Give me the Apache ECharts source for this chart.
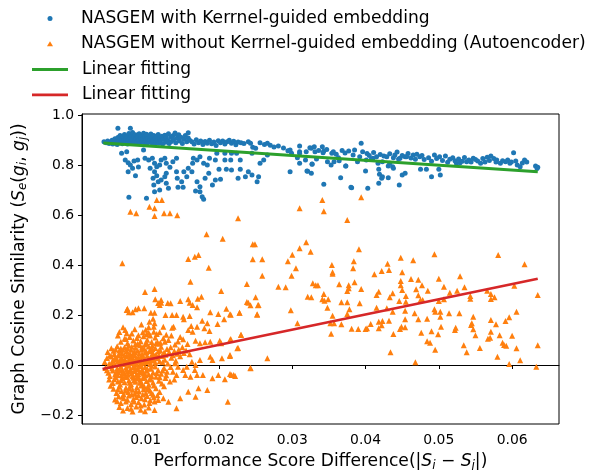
<!DOCTYPE html>
<html>
<head>
<meta charset="utf-8">
<script src="https://cdn.jsdelivr.net/npm/echarts@6/dist/echarts.min.js"></script>
<style>
  html, body { margin: 0; padding: 0; background: #fff; }
  #main { width: 592px; height: 470px; }
</style>
</head>
<body>
<div id="main"></div>
<script>
// values, [score difference, cosine similarity]
const kernelPoints = [
  [0.0043,0.893],[0.0046,0.889],[0.0048,0.896],[0.0050,0.886],[0.0052,0.892],[0.0054,0.899],[0.0055,0.884],[0.0057,0.890],
  [0.0058,0.905],[0.0060,0.895],[0.0061,0.882],[0.0062,0.910],[0.0063,0.888],[0.0064,0.899],[0.0065,0.918],[0.0066,0.893],
  [0.0067,0.904],[0.0068,0.885],[0.0069,0.912],[0.0070,0.897],[0.0071,0.922],[0.0072,0.890],[0.0073,0.906],[0.0074,0.915],
  [0.0075,0.884],[0.0076,0.899],[0.0077,0.926],[0.0078,0.908],[0.0079,0.893],[0.0080,0.917],[0.0081,0.902],[0.0082,0.930],
  [0.0083,0.887],[0.0084,0.911],[0.0085,0.897],[0.0086,0.921],[0.0087,0.905],[0.0088,0.891],[0.0089,0.914],[0.0090,0.899],
  [0.0091,0.925],[0.0092,0.886],[0.0093,0.908],[0.0094,0.918],[0.0095,0.894],[0.0096,0.903],[0.0097,0.927],[0.0098,0.889],
  [0.0099,0.912],[0.0100,0.898],[0.0101,0.920],[0.0102,0.884],[0.0103,0.907],[0.0104,0.893],[0.0105,0.916],[0.0106,0.901],
  [0.0107,0.924],[0.0108,0.889],[0.0109,0.910],[0.0110,0.897],[0.0111,0.918],[0.0112,0.882],[0.0113,0.905],[0.0114,0.893],
  [0.0115,0.913],[0.0116,0.900],[0.0117,0.922],[0.0118,0.887],[0.0119,0.908],[0.0120,0.896],[0.0122,0.915],[0.0123,0.884],
  [0.0124,0.903],[0.0126,0.919],[0.0127,0.891],[0.0128,0.909],[0.0130,0.898],[0.0131,0.925],[0.0132,0.886],[0.0134,0.912],
  [0.0135,0.894],[0.0137,0.917],[0.0138,0.902],[0.0140,0.928],[0.0141,0.889],[0.0143,0.907],[0.0145,0.921],[0.0146,0.896],
  [0.0148,0.911],[0.0150,0.886],[0.0152,0.903],[0.0154,0.918],[0.0156,0.893],[0.0158,0.908],[0.0160,0.899],
  [0.0062,0.947],[0.0079,0.947],[0.0101,0.923],[0.0140,0.923],[0.0158,0.929],
  [0.0163,0.893],[0.0166,0.884],[0.0169,0.901],[0.0172,0.889],[0.0175,0.896],[0.0178,0.882],[0.0181,0.894],[0.0184,0.887],
  [0.0187,0.899],[0.0190,0.885],[0.0193,0.892],[0.0196,0.878],[0.0199,0.897],[0.0202,0.889],[0.0205,0.896],[0.0208,0.884],
  [0.0211,0.893],[0.0214,0.899],[0.0217,0.887],[0.0220,0.895],[0.0223,0.881],[0.0226,0.892],[0.0230,0.889],[0.0234,0.886],
  [0.0240,0.893],[0.0243,0.887],[0.0246,0.871],[0.0245,0.847],[0.0250,0.867],[0.0256,0.889],[0.0262,0.882],[0.0266,0.887],
  [0.0270,0.879],[0.0275,0.872],[0.0281,0.876],[0.0288,0.868],[0.0294,0.857],[0.0299,0.847],[0.0297,0.860],[0.0310,0.876],
  [0.0310,0.853],[0.0319,0.853],[0.0324,0.869],[0.0330,0.873],[0.0331,0.853],[0.0341,0.873],[0.0343,0.856],[0.0354,0.847],
  [0.0356,0.853],[0.0363,0.829],[0.0377,0.856],[0.0383,0.840],[0.0394,0.887],[0.0392,0.833],[0.0410,0.827],[0.0415,0.833],
  [0.0429,0.833],[0.0438,0.829],[0.0447,0.827],[0.0454,0.833],[0.0465,0.840],[0.0474,0.833],
  [0.0336,0.858],[0.0347,0.862],[0.0360,0.843],[0.0368,0.858],[0.0372,0.848],[0.0385,0.860],[0.0326,0.867],[0.0342,0.849],
  [0.0396,0.853],[0.0402,0.846],[0.0405,0.838],[0.0411,0.850],[0.0420,0.842],[0.0425,0.836],[0.0433,0.845],[0.0440,0.840],
  [0.0443,0.852],[0.0450,0.838],[0.0458,0.846],[0.0462,0.828],[0.0470,0.843],[0.0477,0.838],
  [0.0307,0.829],[0.0310,0.807],[0.0327,0.803],[0.0333,0.824],[0.0348,0.813],[0.0353,0.800],[0.0357,0.813],[0.0364,0.817],
  [0.0373,0.796],[0.0389,0.813],[0.0401,0.820],[0.0408,0.823],[0.0417,0.807],[0.0423,0.813],[0.0433,0.807],[0.0437,0.793],
  [0.0445,0.824],[0.0456,0.833],[0.0468,0.823],
  [0.0297,0.773],[0.0321,0.775],[0.0326,0.767],[0.0343,0.723],[0.0366,0.749],[0.0381,0.709],[0.0400,0.776],[0.0403,0.707],
  [0.0418,0.727],[0.0419,0.763],[0.0422,0.747],[0.0423,0.753],[0.0431,0.749],[0.0438,0.787],[0.0446,0.720],[0.0450,0.760],
  [0.0454,0.767],[0.0431,0.796],[0.0418,0.783],[0.0380,0.711],[0.0373,0.796],[0.0327,0.804],
  [0.0494,0.840],[0.0501,0.833],[0.0515,0.823],[0.0524,0.807],[0.0529,0.809],[0.0538,0.813],[0.0547,0.827],[0.0557,0.807],
  [0.0566,0.831],[0.0571,0.836],[0.0579,0.820],[0.0584,0.807],[0.0591,0.813],[0.0597,0.807],[0.0602,0.849],[0.0607,0.800],
  [0.0611,0.793],[0.0617,0.820],[0.0632,0.796],[0.0635,0.791],
  [0.0490,0.753],[0.0502,0.760],[0.0500,0.783],[0.0483,0.783],[0.0475,0.783],
  [0.0480,0.822],[0.0486,0.829],[0.0490,0.815],[0.0497,0.826],[0.0505,0.818],[0.0509,0.836],[0.0512,0.811],[0.0519,0.829],
  [0.0522,0.817],[0.0527,0.824],[0.0532,0.815],[0.0535,0.830],[0.0541,0.820],[0.0544,0.812],[0.0550,0.822],[0.0553,0.816],
  [0.0560,0.826],[0.0563,0.812],[0.0569,0.818],[0.0575,0.826],[0.0578,0.812],[0.0587,0.817],[0.0594,0.820],[0.0599,0.812],
  [0.0605,0.816],[0.0614,0.808],[0.0620,0.812],[0.0634,0.786],
  [0.0067,0.847],[0.0074,0.853],[0.0072,0.820],[0.0076,0.809],[0.0079,0.800],[0.0082,0.787],[0.0084,0.816],[0.0089,0.820],
  [0.0076,0.773],[0.0086,0.757],[0.0090,0.792],[0.0097,0.860],[0.0099,0.827],[0.0104,0.820],[0.0109,0.827],[0.0112,0.807],
  [0.0106,0.787],[0.0112,0.773],[0.0115,0.793],[0.0119,0.800],[0.0121,0.820],[0.0126,0.827],[0.0128,0.807],[0.0133,0.791],
  [0.0137,0.813],[0.0142,0.827],
  [0.0115,0.757],[0.0110,0.747],[0.0111,0.720],[0.0112,0.693],[0.0117,0.733],[0.0121,0.740],[0.0126,0.753],[0.0128,0.727],
  [0.0131,0.707],[0.0119,0.700],[0.0128,0.767],[0.0101,0.667],[0.0077,0.671],
  [0.0143,0.747],[0.0149,0.733],[0.0144,0.711],[0.0151,0.711],[0.0142,0.773],[0.0152,0.773],[0.0156,0.753],[0.0158,0.787],
  [0.0163,0.773],[0.0164,0.807],[0.0165,0.827],[0.0170,0.820],[0.0174,0.833],[0.0179,0.807],[0.0184,0.800],[0.0187,0.827],
  [0.0195,0.820],[0.0197,0.847],[0.0208,0.847],[0.0208,0.820],[0.0216,0.820],[0.0217,0.847],[0.0224,0.847],[0.0229,0.820],
  [0.0236,0.753],[0.0170,0.733],[0.0174,0.713],[0.0181,0.747],[0.0186,0.767],[0.0191,0.720],[0.0195,0.740],[0.0200,0.783],
  [0.0202,0.743],[0.0174,0.693],[0.0177,0.673],[0.0179,0.663],[0.0168,0.696],
  [0.0226,0.747],[0.0229,0.783],[0.0217,0.780],[0.0210,0.783],
  [0.0240,0.773],[0.0245,0.760],[0.0252,0.733],[0.0254,0.753],[0.0256,0.807],[0.0261,0.820],[0.0266,0.840],
  [0.0320,0.776],[0.0318,0.820],[0.0310,0.847]
]

const autoPoints = [
  // high outliers
  [0.0079,0.613],[0.0087,0.607],[0.0105,0.633],[0.0112,0.627],[0.0112,0.596],[0.0125,0.607],[0.0133,0.607],[0.0143,0.599],
  [0.0115,0.660],[0.0122,0.660],[0.0226,0.587],[0.0183,0.523],[0.0205,0.505],[0.0310,0.627],[0.0341,0.660],[0.0343,0.615],
  [0.0394,0.671],[0.0375,0.580],
  [0.0068,0.407],[0.0158,0.424],[0.0167,0.433],[0.0172,0.440],[0.0186,0.389],[0.0161,0.333],[0.0203,0.296],[0.0099,0.292],
  [0.0112,0.304],[0.0113,0.263],[0.0121,0.260],[0.0121,0.249],[0.0119,0.240],[0.0130,0.248],[0.0134,0.247],[0.0147,0.256],
  [0.0158,0.263],[0.0160,0.249],[0.0164,0.240],[0.0170,0.231],[0.0171,0.265],[0.0176,0.273],[0.0210,0.225],[0.0075,0.225],
  [0.0090,0.227],[0.0098,0.227],
  [0.0074,0.220],[0.0077,0.211],[0.0082,0.211],[0.0086,0.223],[0.0107,0.209],[0.0112,0.209],[0.0117,0.248],
  [0.0127,0.200],[0.0136,0.200],[0.0142,0.200],[0.0151,0.193],[0.0160,0.196],
  [0.0105,0.173],[0.0112,0.167],[0.0111,0.153],[0.0104,0.151],[0.0124,0.153],[0.0136,0.149],[0.0138,0.153],
  [0.0072,0.140],[0.0074,0.127],[0.0101,0.123],[0.0104,0.129],[0.0111,0.133],
  [0.0152,0.183],[0.0162,0.156],[0.0158,0.140],[0.0164,0.133],[0.0170,0.153],[0.0177,0.177],[0.0180,0.147],[0.0184,0.167],
  [0.0187,0.136],[0.0198,0.164],[0.0207,0.183],[0.0216,0.201],[0.0228,0.209],[0.0188,0.211],[0.0199,0.204],[0.0240,0.249],
  [0.0253,0.239],[0.0252,0.201],
  [0.0124,0.107],[0.0126,0.093],[0.0114,0.087],[0.0120,0.089],
  [0.0151,0.103],[0.0157,0.084],[0.0168,0.097],[0.0174,0.087],[0.0181,0.091],[0.0188,0.093],[0.0201,0.097],[0.0203,0.087],
  [0.0216,0.104],[0.0230,0.121],[0.0226,0.068],[0.0215,0.036],[0.0204,0.027],[0.0191,0.020],[0.0188,0.033],[0.0174,0.020],
  [0.0168,0.000],[0.0163,0.013],[0.0156,-0.007],[0.0151,-0.020],[0.0144,-0.007],[0.0140,0.007],[0.0137,-0.027],[0.0142,-0.040],
  [0.0154,-0.040],[0.0161,-0.047],[0.0167,-0.020],[0.0170,-0.040],[0.0178,-0.040],[0.0191,-0.053],[0.0199,-0.040],[0.0208,-0.057],
  [0.0217,-0.040],[0.0222,-0.044],[0.0243,-0.013],[0.0212,-0.147],[0.0184,-0.100],[0.0172,-0.093],[0.0158,-0.107],[0.0168,-0.127],
  [0.0147,-0.133],[0.0142,-0.173],[0.0131,-0.147],[0.0124,-0.133],[0.0117,-0.140],[0.0112,-0.180],
  // right-hand spread
  [0.0246,0.483],[0.0249,0.483],[0.0319,0.491],[0.0310,0.467],[0.0325,0.453],[0.0300,0.441],[0.0391,0.463],[0.0494,0.443],
  [0.0581,0.440],[0.0246,0.423],[0.0259,0.423],[0.0294,0.415],[0.0384,0.415],[0.0448,0.429],[0.0465,0.419],[0.0430,0.405],
  [0.0617,0.403],[0.0354,0.400],[0.0305,0.387],[0.0383,0.387],[0.0355,0.371],[0.0355,0.365],[0.0259,0.357],[0.0299,0.357],
  [0.0412,0.363],[0.0422,0.376],[0.0432,0.380],[0.0450,0.371],[0.0529,0.355],[0.0500,0.345],[0.0462,0.344],[0.0472,0.341],
  [0.0448,0.336],
  [0.0238,0.324],[0.0281,0.313],[0.0291,0.311],[0.0328,0.327],[0.0332,0.319],[0.0335,0.319],[0.0364,0.323],[0.0377,0.319],
  [0.0377,0.307],[0.0375,0.296],[0.0385,0.331],[0.0394,0.304],[0.0448,0.319],[0.0450,0.300],[0.0477,0.319],[0.0469,0.303],
  [0.0485,0.297],[0.0507,0.313],[0.0515,0.289],[0.0525,0.297],[0.0535,0.311],[0.0566,0.297],[0.0571,0.284],[0.0576,0.271],
  [0.0571,0.264],[0.0543,0.276],[0.0543,0.265],[0.0603,0.317],[0.0635,0.280],
  [0.0415,0.280],[0.0418,0.293],[0.0437,0.287],[0.0433,0.271],[0.0455,0.276],[0.0455,0.253],[0.0446,0.256],[0.0472,0.279],
  [0.0475,0.260],[0.0478,0.260],[0.0494,0.223],[0.0495,0.213],[0.0502,0.213],[0.0502,0.193],[0.0514,0.207],[0.0528,0.207],
  [0.0500,0.256],[0.0507,0.263],
  [0.0321,0.273],[0.0326,0.271],[0.0341,0.263],[0.0344,0.257],[0.0349,0.263],[0.0343,0.284],[0.0367,0.251],[0.0375,0.251],
  [0.0392,0.247],[0.0348,0.229],[0.0378,0.223],[0.0375,0.204],[0.0355,0.197],
  [0.0254,0.240],[0.0243,0.239],[0.0238,0.252],[0.0250,0.271],[0.0228,0.209],[0.0252,0.203],[0.0215,0.203],[0.0298,0.219],
  [0.0415,0.229],[0.0429,0.227],[0.0437,0.213],[0.0454,0.217],[0.0467,0.207],
  [0.0307,0.167],[0.0352,0.167],[0.0357,0.167],[0.0367,0.163],[0.0353,0.125],[0.0381,0.145],[0.0390,0.144],[0.0400,0.144],
  [0.0402,0.147],[0.0407,0.164],[0.0418,0.173],[0.0423,0.176],[0.0422,0.159],[0.0418,0.147],[0.0432,0.177],[0.0438,0.124],
  [0.0447,0.144],[0.0449,0.153],[0.0454,0.151],[0.0454,0.183],[0.0472,0.183],[0.0484,0.185],[0.0476,0.129],[0.0490,0.135],
  [0.0499,0.123],[0.0503,0.153],[0.0522,0.140],[0.0523,0.149],[0.0544,0.160],[0.0545,0.167],[0.0547,0.193],[0.0547,0.143],
  [0.0550,0.119],[0.0571,0.180],[0.0578,0.163],[0.0591,0.176],[0.0596,0.191],[0.0583,0.119],[0.0571,0.133],[0.0567,0.105],
  [0.0570,0.109],[0.0600,0.117],[0.0606,0.213],[0.0606,0.067],[0.0587,0.089],[0.0589,0.080],[0.0592,0.077],[0.0556,0.068],
  [0.0534,0.079],[0.0538,0.051],[0.0484,0.095],[0.0488,0.089],[0.0495,0.061],[0.0580,0.033],[0.0596,0.004],[0.0611,0.019],
  [0.0633,-0.007],[0.0635,0.079],[0.0468,0.011],[0.0434,0.051],
  [0.0230,0.120],[0.0225,0.067],[0.0215,0.100],[0.0215,0.040],[0.0266,0.027],[0.0243,-0.012],[0.0215,-0.036],[0.0220,-0.040],
  // dense cluster near the origin
  [0.0062,0.118],[0.0071,0.105],[0.0078,0.112],[0.0083,0.098],[0.0088,0.108],[0.0093,0.095],[0.0097,0.115],[0.0102,0.101],
  [0.0108,0.092],[0.0113,0.110],[0.0066,0.093],[0.0075,0.087],[0.0086,0.084],[0.0099,0.082],[0.0118,0.085],[0.0131,0.100],
  [0.0048,0.052],[0.0053,0.067],[0.0057,0.044],[0.0061,0.075],[0.0064,0.058],[0.0068,0.046],[0.0071,0.071],[0.0074,0.055],
  [0.0077,0.078],[0.0080,0.061],[0.0083,0.048],[0.0086,0.069],[0.0089,0.057],[0.0092,0.079],[0.0095,0.043],[0.0098,0.065],
  [0.0101,0.052],[0.0104,0.074],[0.0107,0.060],[0.0110,0.047],[0.0113,0.068],[0.0117,0.055],[0.0121,0.073],[0.0125,0.050],
  [0.0129,0.064],[0.0134,0.071],[0.0139,0.056],[0.0145,0.062],[0.0152,0.048],[0.0059,0.062],[0.0066,0.066],[0.0079,0.042],
  [0.0094,0.061],[0.0109,0.078],
  [0.0044,0.012],[0.0047,0.028],[0.0050,0.005],[0.0053,0.034],[0.0055,0.018],[0.0058,0.002],[0.0060,0.025],[0.0063,0.038],
  [0.0065,0.011],[0.0067,0.030],[0.0070,0.004],[0.0072,0.021],[0.0074,0.036],[0.0076,0.014],[0.0078,0.029],[0.0080,0.007],
  [0.0082,0.024],[0.0084,0.039],[0.0086,0.016],[0.0088,0.002],[0.0090,0.031],[0.0092,0.019],[0.0094,0.008],[0.0096,0.035],
  [0.0098,0.023],[0.0100,0.011],[0.0102,0.037],[0.0104,0.026],[0.0106,0.004],[0.0108,0.018],[0.0110,0.033],[0.0113,0.009],
  [0.0116,0.027],[0.0119,0.015],[0.0122,0.036],[0.0126,0.021],[0.0130,0.006],[0.0135,0.029],[0.0141,0.017],[0.0147,0.035],
  [0.0069,0.017],[0.0081,0.033],[0.0093,0.002],[0.0105,0.015],[0.0057,0.022],[0.0089,0.013],
  [0.0045,-0.012],[0.0049,-0.031],[0.0052,-0.005],[0.0055,-0.022],[0.0058,-0.038],[0.0061,-0.014],[0.0063,-0.029],[0.0066,-0.006],
  [0.0068,-0.020],[0.0071,-0.035],[0.0073,-0.011],[0.0075,-0.026],[0.0077,-0.003],[0.0079,-0.017],[0.0081,-0.033],[0.0083,-0.009],
  [0.0085,-0.024],[0.0087,-0.039],[0.0089,-0.013],[0.0091,-0.028],[0.0093,-0.004],[0.0095,-0.019],[0.0097,-0.034],[0.0099,-0.008],
  [0.0101,-0.023],[0.0104,-0.037],[0.0107,-0.015],[0.0110,-0.030],[0.0113,-0.006],[0.0117,-0.021],[0.0121,-0.035],[0.0125,-0.012],
  [0.0129,-0.027],[0.0134,-0.008],[0.0067,-0.040],[0.0084,-0.002],[0.0096,-0.029],[0.0108,-0.003],
  [0.0050,-0.058],[0.0055,-0.072],[0.0059,-0.049],[0.0062,-0.066],[0.0065,-0.078],[0.0068,-0.054],[0.0071,-0.069],[0.0074,-0.046],
  [0.0077,-0.062],[0.0080,-0.077],[0.0083,-0.051],[0.0086,-0.067],[0.0089,-0.044],[0.0092,-0.059],[0.0095,-0.075],[0.0098,-0.048],
  [0.0101,-0.064],[0.0104,-0.079],[0.0107,-0.055],[0.0110,-0.070],[0.0114,-0.047],[0.0118,-0.063],[0.0122,-0.074],[0.0127,-0.052],
  [0.0133,-0.066],[0.0139,-0.058],
  [0.0056,-0.095],[0.0060,-0.112],[0.0064,-0.087],[0.0067,-0.104],[0.0070,-0.118],[0.0073,-0.091],[0.0076,-0.108],[0.0079,-0.083],
  [0.0082,-0.099],[0.0085,-0.115],[0.0088,-0.089],[0.0091,-0.106],[0.0094,-0.082],[0.0097,-0.097],[0.0100,-0.113],[0.0103,-0.088],
  [0.0106,-0.103],[0.0110,-0.119],[0.0114,-0.093],[0.0119,-0.108],[0.0125,-0.085],[0.0052,-0.083],
  [0.0058,-0.138],[0.0063,-0.125],[0.0066,-0.152],[0.0070,-0.133],[0.0073,-0.146],[0.0077,-0.122],[0.0080,-0.157],[0.0083,-0.137],
  [0.0087,-0.128],[0.0090,-0.149],[0.0094,-0.133],[0.0098,-0.158],[0.0102,-0.124],[0.0106,-0.141],[0.0111,-0.129],[0.0061,-0.145],
  [0.0064,-0.168],[0.0069,-0.182],[0.0075,-0.172],[0.0082,-0.186],[0.0087,-0.166],[0.0093,-0.179],[0.0099,-0.185],[0.0104,-0.170],
  [0.0080,-0.175],
  [0.0051,0.038],[0.0054,0.009],[0.0056,0.057],[0.0059,0.031],[0.0062,0.014],[0.0064,0.047],[0.0066,0.024],[0.0069,0.061],
  [0.0071,0.039],[0.0073,0.008],[0.0075,0.067],[0.0077,0.044],[0.0079,0.022],[0.0081,0.073],[0.0083,0.013],[0.0085,0.052],
  [0.0087,0.029],[0.0089,0.085],[0.0091,0.046],[0.0093,0.024],[0.0095,0.071],[0.0097,0.011],[0.0099,0.049],[0.0101,0.088],
  [0.0103,0.017],[0.0105,0.056],[0.0107,0.034],[0.0109,0.064],[0.0111,0.021],[0.0114,0.042],[0.0116,0.091],[0.0118,0.038],
  [0.0120,0.058],[0.0123,0.011],[0.0127,0.041],[0.0132,0.052],[0.0137,0.039],[0.0143,0.045],
  [0.0047,-0.021],[0.0051,-0.044],[0.0054,-0.013],[0.0057,-0.057],[0.0060,-0.027],[0.0062,-0.041],[0.0064,-0.017],[0.0066,-0.061],
  [0.0069,-0.029],[0.0072,-0.048],[0.0074,-0.019],[0.0076,-0.039],[0.0078,-0.071],[0.0080,-0.025],[0.0082,-0.045],[0.0084,-0.062],
  [0.0086,-0.016],[0.0088,-0.053],[0.0090,-0.037],[0.0092,-0.071],[0.0094,-0.026],[0.0096,-0.052],[0.0098,-0.086],[0.0100,-0.041],
  [0.0102,-0.014],[0.0105,-0.058],[0.0108,-0.044],[0.0111,-0.082],[0.0115,-0.032],[0.0119,-0.049],[0.0123,-0.022],[0.0128,-0.041],
  [0.0062,-0.098],[0.0068,-0.127],[0.0072,-0.103],[0.0075,-0.139],[0.0078,-0.094],[0.0081,-0.118],[0.0084,-0.146],[0.0087,-0.104],
  [0.0090,-0.121],[0.0093,-0.162],[0.0096,-0.118],[0.0099,-0.137],[0.0102,-0.098],[0.0105,-0.152],[0.0108,-0.112],[0.0112,-0.146],
  [0.0116,-0.121],
  [0.0064,0.132],[0.0069,0.151],[0.0073,0.104],[0.0081,0.126],[0.0085,0.143],[0.0090,0.119],[0.0094,0.162],[0.0096,0.131],
  [0.0100,0.141],[0.0106,0.118],[0.0110,0.185],[0.0115,0.124],[0.0119,0.131],[0.0128,0.121],[0.0135,0.118],[0.0144,0.094],
  [0.0147,0.112],[0.0140,0.082],[0.0150,0.071],[0.0155,0.058],[0.0160,0.043]
]

// end points of the two fitted lines
const kernelFit = [[0.0042, 0.888], [0.0635, 0.773]]
const autoFit = [[0.0041, -0.016], [0.0635, 0.345]]

const xTicks = [0.01, 0.02, 0.03, 0.04, 0.05, 0.06]
const yTicks = [-0.2, 0.0, 0.2, 0.4, 0.6, 0.8, 1.0]

const names = [
  'NASGEM with Kerrnel-guided embedding',
  'NASGEM without Kerrnel-guided embedding (Autoencoder)',
  'Linear fitting',
  'Linear fitting '
]

const font = 'DejaVu Sans'
const mathRich = {
  it: { fontFamily: font, fontStyle: 'italic', fontSize: 17.1, color: '#000' },
  sub: { fontFamily: font, fontStyle: 'italic', fontSize: 12, color: '#000', padding: [8, 0, 0, 0] }
}
const legendText = { fontSize: 17.1, color: '#000', fontFamily: font }

const chart = echarts.init(document.getElementById('main'), null, { renderer: 'canvas' })
chart.setOption({
  animation: false,
  backgroundColor: '#fff',
  textStyle: { fontFamily: font },
  grid: {
    left: 82, right: 33, top: 114, bottom: 46,
    show: true, borderColor: '#000', borderWidth: 1,
    outerBoundsMode: 'none'
  },
  legend: [
    {
      // markers only, centred under the line handles
      data: [names[0], names[1]],
      orient: 'vertical', left: 47, top: 10, padding: 0,
      itemWidth: 6, itemHeight: 5, itemGap: 8.3,
      textStyle: Object.assign({ padding: [0, 0, 0, 23] }, legendText),
      selectedMode: false
    },
    {
      data: [names[2], names[3]],
      orient: 'vertical', left: 32, top: 61, padding: 0,
      icon: 'rect', itemWidth: 36, itemHeight: 2.8, itemGap: 8.3,
      textStyle: Object.assign({ padding: [0, 0, 0, 9] }, legendText),
      selectedMode: false
    }
  ],
  xAxis: {
    type: 'value', min: 0.0013, max: 0.0664,
    name: 'Performance Score Difference(|{it|S}{sub|i} \u2212 {it|S}{sub|j}|)',
    nameLocation: 'middle', nameGap: 28,
    nameTextStyle: { fontSize: 17.1, color: '#000', fontFamily: font, rich: mathRich },
    splitLine: { show: false },
    axisLine: { lineStyle: { color: '#000', width: 1 } },
    axisTick: { length: 4, lineStyle: { color: '#000' }, customValues: xTicks },
    axisLabel: {
      customValues: xTicks, margin: 9, fontSize: 13.9, color: '#000', fontFamily: font,
      formatter: v => v.toFixed(2)
    }
  },
  yAxis: {
    type: 'value', min: -0.236, max: 1.004,
    name: 'Graph Cosine Similarity ({it|S}{sub|e}({it|g}{sub|i}, {it|g}{sub|j}))',
    nameLocation: 'middle', nameGap: 51, nameRotate: 90,
    nameTextStyle: { fontSize: 17.1, color: '#000', fontFamily: font, rich: mathRich },
    splitLine: { show: false },
    axisLine: { show: true, lineStyle: { color: '#000', width: 1 } },
    axisTick: { show: true, length: 4, lineStyle: { color: '#000' }, customValues: yTicks },
    axisLabel: {
      customValues: yTicks, margin: 8, fontSize: 13.9, color: '#000', fontFamily: font,
      formatter: v => v.toFixed(1).replace('-', '\u2212')
    }
  },
  series: [
    {
      name: names[0], type: 'scatter', data: kernelPoints,
      symbol: 'circle', symbolSize: 5,
      itemStyle: { color: '#1f77b4', opacity: 1 }, silent: true
    },
    {
      name: names[1], type: 'scatter', data: autoPoints,
      symbol: 'triangle', symbolSize: 6,
      itemStyle: { color: '#ff7f0e', opacity: 1 }, silent: true
    },
    {
      name: names[2], type: 'line', data: kernelFit,
      symbol: 'none', lineStyle: { color: '#2ca02c', width: 2.8 },
      itemStyle: { color: '#2ca02c' }, silent: true, z: 3
    },
    {
      name: names[3], type: 'line', data: autoFit,
      symbol: 'none', lineStyle: { color: '#d62728', width: 2.8 },
      itemStyle: { color: '#d62728' }, silent: true, z: 3
    }
  ]
})
</script>
</body>
</html>
